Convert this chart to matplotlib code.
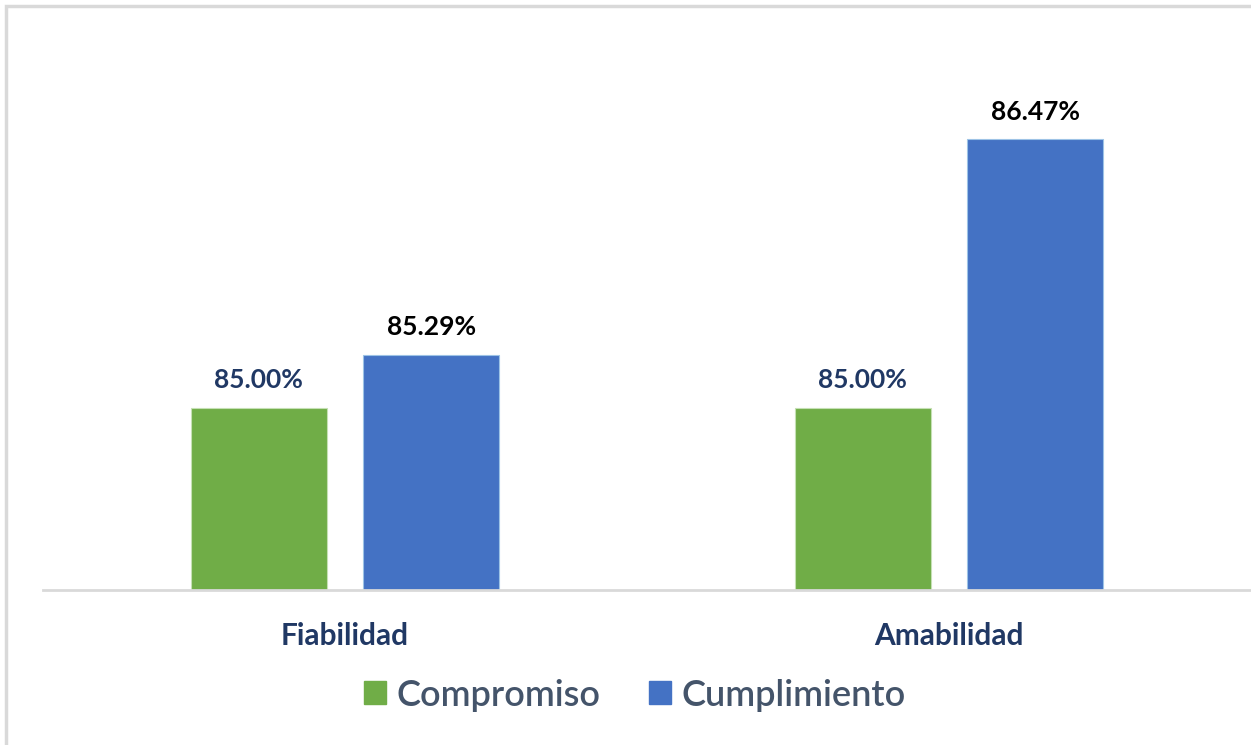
"""
Compromiso vs Cumplimiento por dimension, barras agrupadas.
"""

import matplotlib.pyplot as plt
import matplotlib.patches as mpatches
import numpy as np

# categories and series
CATEGORIES = ['Fiabilidad', 'Amabilidad']
COMPROMISO = [85.00, 85.00]
CUMPLIMIENTO = [85.29, 86.47]
SERIES_NAMES = ['Compromiso', 'Cumplimiento']

GREEN = '#70AD47'
BLUE = '#4472C4'
NAVY = '#203864'
LEGEND_TEXT = '#44546A'

plt.rcParams['font.family'] = ['Lato', 'DejaVu Sans']

fig = plt.figure(figsize=(12.51, 7.45), dpi=100)

# light gray frame round the chart (left and top visible)
frame = mpatches.Rectangle((6 / 1251, -0.1), 1.2, (745 - 6) / 745 + 0.1,
                           transform=fig.transFigure, fill=False,
                           edgecolor='#d9d9d9', linewidth=2.5)
fig.patches.append(frame)

ax = fig.add_axes([43 / 1251, (745 - 590) / 745, 1 - 43 / 1251, (590 - 42.5) / 745])

x = np.arange(len(CATEGORIES))
width = 0.225
offset = 0.143

bars1 = ax.bar(x - offset, COMPROMISO, width, color=GREEN, label=SERIES_NAMES[0],
               edgecolor='#c5e0b4', linewidth=0.8)
bars2 = ax.bar(x + offset, CUMPLIMIENTO, width, color=BLUE, label=SERIES_NAMES[1],
               edgecolor='#9dc3e6', linewidth=0.8)

ax.set_ylim(84, 87)
ax.set_xlim(-0.5, 1.5)

for b, v in zip(bars1, COMPROMISO):
    ax.annotate(f'{v:.2f}%', (b.get_x() + b.get_width() / 2, v),
                xytext=(0, 11), textcoords='offset points', ha='center', va='bottom',
                fontsize=19, fontweight='bold', color=NAVY)
for b, v in zip(bars2, CUMPLIMIENTO):
    ax.annotate(f'{v:.2f}%', (b.get_x() + b.get_width() / 2, v),
                xytext=(0, 11), textcoords='offset points', ha='center', va='bottom',
                fontsize=19, fontweight='bold', color='black')

ax.set_xticks(x)
ax.set_xticklabels(CATEGORIES, fontsize=21.5, fontweight='bold', color=NAVY)
ax.tick_params(axis='x', length=0, pad=23)
ax.set_yticks([])

for side in ['top', 'right', 'left']:
    ax.spines[side].set_visible(False)
ax.spines['bottom'].set_color('#d9d9d9')
ax.spines['bottom'].set_linewidth(2)

handles = [mpatches.Patch(color=GREEN), mpatches.Patch(color=BLUE)]
leg = fig.legend(handles, SERIES_NAMES, loc='center', bbox_to_anchor=(635 / 1251, 1 - 695 / 745),
                 ncol=2, frameon=False, fontsize=26, handlelength=0.61, handleheight=0.61,
                 handletextpad=0.3, columnspacing=1.33)
for t in leg.get_texts():
    t.set_color(LEGEND_TEXT)
    t.set_fontweight('semibold')

fig.savefig('out.png', dpi=100)
